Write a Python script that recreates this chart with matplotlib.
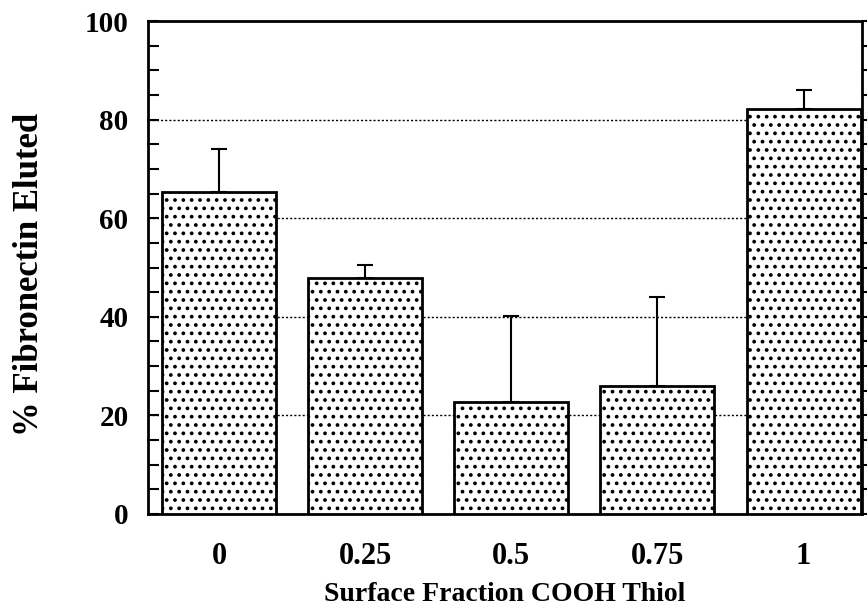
import matplotlib
matplotlib.use("Agg")
import matplotlib.pyplot as plt
from matplotlib.ticker import MultipleLocator

categories = ["0", "0.25", "0.5", "0.75", "1"]
values = [65.3, 47.9, 22.7, 26.0, 82.2]
errors = [8.7, 2.6, 17.5, 18.0, 3.8]
y_ticks = [0, 20, 40, 60, 80, 100]

plt.rcParams['font.family'] = ['Liberation Serif', 'DejaVu Serif']
plt.rcParams['font.weight'] = 'bold'
plt.rcParams['hatch.linewidth'] = 1.5
plt.rcParams['hatch.color'] = 'black'

fig = plt.figure(figsize=(8.67, 6.07), dpi=100)
ax = fig.add_axes([148/867, (607-514)/607, (862-148)/867, (514-21)/607])

x = list(range(len(categories)))
ax.bar(x, values, width=0.78, color='white', edgecolor='black', linewidth=2.0,
       hatch='..', zorder=3)
ax.errorbar(x, values, yerr=[[0]*len(errors), errors], fmt='none', ecolor='black',
            elinewidth=1.5, capsize=5.5, capthick=1.5, zorder=2)

ax.set_xlim(-0.487, 4.4)
ax.set_ylim(0, 100)
ax.set_yticks(y_ticks)
ax.yaxis.set_minor_locator(MultipleLocator(5))
ax.set_xticks(x)
ax.set_xticklabels(categories)

for yv in [20, 40, 60, 80]:
    ax.axhline(yv, color='black', linestyle=(0, (1.5, 1.5)), linewidth=1.0, zorder=1)

for s in ax.spines.values():
    s.set_linewidth(2.0)

ax.tick_params(axis='y', which='both', direction='in', length=8, width=1.5,
               labelsize=21, pad=14, right=False)
ax.tick_params(axis='x', which='both', length=0, labelsize=22, pad=20)

# outward ticks on the right spine
ax2 = ax.twinx()
ax2.set_ylim(0, 100)
ax2.set_yticks(y_ticks)
ax2.yaxis.set_minor_locator(MultipleLocator(5))
ax2.tick_params(axis='y', which='both', direction='out', length=4, width=1.5,
                labelright=False)
for s in ax2.spines.values():
    s.set_visible(False)

ax.set_ylabel("% Fibronectin Eluted", fontsize=25, fontweight='bold')
ax.yaxis.set_label_coords((46 - 148) / 714, 0.485)
ax.set_xlabel("Surface Fraction COOH Thiol", fontsize=20, fontweight='bold', labelpad=8)

fig.savefig("out.png", dpi=100)
